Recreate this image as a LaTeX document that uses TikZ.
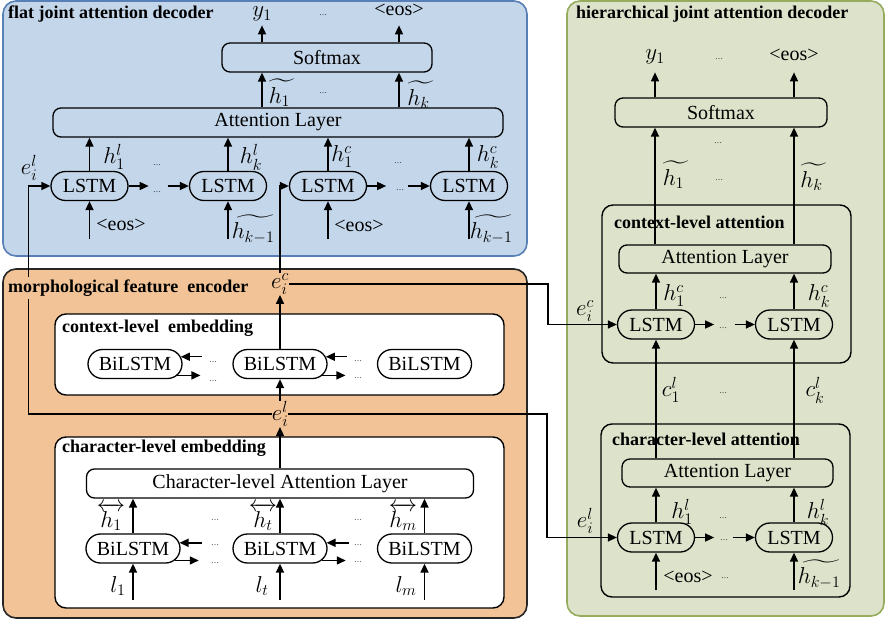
\documentclass[tikz,border=0pt]{standalone}
\usepackage{fix-cm}
\usepackage{amsmath}
\usepackage{fontspec}
\setmainfont{Liberation Serif}
\usetikzlibrary{shapes.misc,arrows.meta,calc}

\definecolor{flatfill}{RGB}{196,214,234}
\definecolor{flatline}{RGB}{88,128,182}
\definecolor{encfill}{RGB}{242,195,150}
\definecolor{hierfill}{RGB}{221,227,203}
\definecolor{hierline}{RGB}{150,172,92}

\newcommand{\tl}[1]{\widetilde{#1\mkern4mu}}

\tikzset{
  every node/.style={font=\rmfamily\fontsize{20}{24}\selectfont, inner sep=0pt},
  mlab/.style={font=\rmfamily\fontsize{23}{27}\selectfont},
  panel/.style={line width=1.6pt, rounded corners=13pt},
  group/.style={draw, line width=1.4pt, rounded corners=11pt},
  layer/.style={draw, line width=1.3pt, rounded corners=8pt, minimum height=29pt},
  cell/.style={draw, line width=1.3pt, rounded rectangle, minimum width=77pt, minimum height=29pt},
  bicell/.style={cell, minimum width=94pt},
  arr/.style={line width=1.5pt, -{Triangle[length=9pt,width=8pt]}},
  title/.style={font=\rmfamily\fontsize{18}{22}\selectfont\bfseries, anchor=west},
  dotl/.style={font=\rmfamily\fontsize{8}{9}\selectfont},
}

\begin{document}
\begin{tikzpicture}[x=1pt,y=-1pt]
\useasboundingbox (0,0) rectangle (888,623);

% ---------- panels ----------
\draw[panel, draw=flatline, fill=flatfill] (3,1) rectangle (527,256);
\draw[panel, draw=black!85, fill=encfill] (3,269) rectangle (527,618);
\draw[panel, draw=hierline, fill=hierfill] (567,1) rectangle (884,616);

% ---------- flat joint attention decoder ----------
\node[title] (tflat) at (8,14) {flat joint attention decoder};
\node[layer, minimum width=210pt] (fsoft) at (327,57.5) {Softmax};
\node[layer, minimum width=450pt] (fatt) at (278,122.5) {Attention Layer};
\node[cell] (f1) at (89.5,186) {LSTM};
\node[cell] (f2) at (228,186) {LSTM};
\node[cell] (f3) at (328,186) {LSTM};
\node[cell] (f4) at (469,186) {LSTM};

\node[mlab] (fy1) at (262,14) {$y_1$};
\node[dotl] (fd0) at (323,15) {…};
\node (feos) at (399,10) {<eos>};
\draw[arr] (fsoft.north -| fy1) -- ++(0,-17);
\draw[arr] (fsoft.north -| feos) -- ++(0,-17);
\draw[arr] (fatt.north -| fy1) -- (fsoft.south -| fy1);
\draw[arr] (fatt.north -| feos) -- (fsoft.south -| feos);
\node[mlab] (fht1) at (282,93) {$\tl{h_1}$};
\node[dotl] (fd1) at (323,93) {…};
\node[mlab] (fhtk) at (421,95) {$\tl{h_k}$};

\foreach \n in {f1,f2,f3,f4}
  \draw[arr] (\n.north) -- (\n.north |- fatt.south);
\node[mlab] (fh1) at (114,157) {$h_1^l$};
\node[mlab] (fhk) at (251,157) {$h_k^l$};
\node[mlab] (fh1c) at (342,157) {$h_1^c$};
\node[mlab] (fhkc) at (488,157) {$h_k^c$};
\node[dotl] (fd2) at (157,165) {…};
\node[dotl] (fd3) at (157,192) {…};
\node[dotl] (fd4) at (398,163) {…};
\node[dotl] (fd5) at (400,190) {…};
\draw[arr] (f1.east) -- ++(20,0);
\draw[arr] (f2.west) ++(-21,0) -- (f2.west);
\draw[arr] (f3.east) -- ++(19,0);
\draw[arr] (f4.west) ++(-22,0) -- (f4.west);
\node[mlab] (feil) at (29,168) {$e_i^l$};

\foreach \n in {f1,f2,f3,f4}
  \draw[arr] (\n.south) ++(0,38) -- (\n.south);
\node (fin1) at (121,225) {<eos>};
\node[mlab] (fin2) at (255,229) {$\widetilde{h_{k-1}\mkern3mu}$};
\node (fin3) at (359,226) {<eos>};
\node[mlab] (fin4) at (493,229) {$\widetilde{h_{k-1}\mkern3mu}$};

% ---------- morphological feature encoder ----------
\node[mlab] (eic) at (280,284) {$e_i^c$};
\draw[group, fill=white] (55,314) rectangle (504,395);
\node[title] (tctx) at (62,328) {context-level\ \ embedding};
\node[bicell] (c1) at (135,364) {BiLSTM};
\node[bicell] (c2) at (280,364) {BiLSTM};
\node[bicell] (c3) at (424.5,364) {BiLSTM};
\draw[arr] (c1.9) ++(21,0) -- (c1.9);
\draw[arr] (c1.-15) -- ++(23,0);
\draw[arr] (c2.9) ++(21,0) -- (c2.9);
\draw[arr] (c2.-15) -- ++(23,0);
\node[dotl] (cd1) at (213,362) {…};
\node[dotl] (cd2) at (213,381) {…};
\node[dotl] (cd3) at (358,361) {…};
\node[dotl] (cd4) at (358,378) {…};

\node[mlab] (eil) at (280,414) {$e_i^l$};
\draw[group, fill=white] (55,437) rectangle (504,608);
\node[title] (tchar) at (62,448) {character-level embedding};
\node[layer, minimum width=387pt] (chatt) at (280,483.5) {Character-level Attention Layer};
\node[bicell] (b1) at (133,548.5) {BiLSTM};
\node[bicell] (b2) at (280,548.5) {BiLSTM};
\node[bicell] (b3) at (424.5,548.5) {BiLSTM};
\foreach \n in {b1,b2,b3} {
  \draw[arr] (\n.north) -- (\n.north |- chatt.south);
  \draw[arr] (\n.south) ++(0,36) -- (\n.south);
}
\draw[arr] (b1.7) ++(22,0) -- (b1.7);
\draw[arr] (b1.-16) -- ++(24,0);
\draw[arr] (b2.7) ++(22,0) -- (b2.7);
\draw[arr] (b2.-16) -- ++(24,0);
\node[mlab] (bh1) at (111,517) {$\overleftrightarrow{h_1}$};
\node[mlab] (bht) at (263,517) {$\overleftrightarrow{h_t}$};
\node[mlab] (bhm) at (403,517) {$\overleftrightarrow{h_m}$};
\node[dotl] (bd1) at (215,520) {…};
\node[dotl] (bd2) at (358,520) {…};
\node[dotl] (bd3) at (215,545) {…};
\node[dotl] (bd4) at (215,563) {…};
\node[dotl] (bd5) at (358,545) {…};
\node[dotl] (bd6) at (358,562) {…};
\node[mlab] (bl1) at (118,586) {$l_1$};
\node[mlab] (blt) at (262,586) {$l_t$};
\node[mlab] (blm) at (406,586) {$l_m$};

% vertical data path through the encoder
\draw[arr] (chatt.north) -- (eil.south);
\draw[arr] (eil.north) -- (c2.south);
\draw[arr] (c2.north) -- (eic.south);
\draw[arr] (eic.north) |- (f3.west);
\draw[arr] (eil.west) -| ([xshift=-22pt]f1.west) -- (f1.west);
\node[title, fill=encfill, inner xsep=2pt, inner ysep=3pt] (tenc) at (6,288) {morphological feature\ \ encoder};

% ---------- hierarchical joint attention decoder ----------
\node[title] (thier) at (576,14) {hierarchical joint attention decoder};
\node[mlab] (hy1) at (655,57) {$y_1$};
\node[dotl] (hd0) at (719,59) {…};
\node (heos) at (794,55) {<eos>};
\node[layer, minimum width=212pt] (hsoft) at (721,112.5) {Softmax};
\draw[arr] (hsoft.north -| hy1) -- ++(0,-25);
\draw[arr] (hsoft.north -| heos) -- ++(0,-25);

\draw[group] (602,205) rectangle (851,363);
\node[title] (tcla) at (614,222) {context-level attention};
\node[layer, minimum width=212pt, minimum height=28pt] (hcatt) at (725,259) {Attention Layer};
\draw[arr] (hcatt.north -| hy1) -- (hsoft.south -| hy1);
\draw[arr] (hcatt.north -| heos) -- (hsoft.south -| heos);
\node[dotl] (hd1) at (718,143) {…};
\node[mlab] (hht1) at (676,175) {$\tl{h_1}$};
\node[dotl] (hd2) at (719,180) {…};
\node[mlab] (hhtk) at (814,177) {$\tl{h_k}$};

\node[cell] (hc1) at (656,324.5) {LSTM};
\node[cell] (hc2) at (794,324.5) {LSTM};
\foreach \n in {hc1,hc2}
  \draw[arr] (\n.north) -- (\n.north |- hcatt.south);
\node[mlab] (hch1) at (674,296) {$h_1^c$};
\node[dotl] (hd3) at (723,298) {…};
\node[mlab] (hchk) at (819,296) {$h_k^c$};
\draw[arr] (hc1.east) -- ++(19,0);
\node[dotl] (hd4) at (723,328) {…};
\draw[arr] (hc2.west) ++(-20,0) -- (hc2.west);
\node[mlab] (heic) at (585,311) {$e_i^c$};

\draw[group] (601,424) rectangle (850,597);
\node[title] (tcha) at (612,439) {character-level attention};
\node[layer, minimum width=211pt, minimum height=28pt] (hlatt) at (727.5,473) {Attention Layer};
\draw[arr] (hlatt.north -| hc1) -- (hc1.south);
\draw[arr] (hlatt.north -| hc2) -- (hc2.south);
\node[mlab] (hcl1) at (671,390) {$c_1^l$};
\node[dotl] (hd5) at (723,393) {…};
\node[mlab] (hclk) at (815,390) {$c_k^l$};

\node[cell] (hl1) at (656,537.5) {LSTM};
\node[cell] (hl2) at (794,537.5) {LSTM};
\foreach \n in {hl1,hl2} {
  \draw[arr] (\n.north) -- (\n.north |- hlatt.south);
  \draw[arr] (\n.south) ++(0,37) -- (\n.south);
}
\node[mlab] (hlh1) at (682,512) {$h_1^l$};
\node[dotl] (hd6) at (723,518) {…};
\node[mlab] (hlhk) at (818,512) {$h_k^l$};
\draw[arr] (hl1.east) -- ++(19,0);
\node[dotl] (hd7) at (724,540) {…};
\draw[arr] (hl2.west) ++(-22,0) -- (hl2.west);
\node (hin1) at (688,577) {<eos>};
\node[dotl] (hd8) at (725,578) {…};
\node[mlab] (hin2) at (821,574) {$\widetilde{h_{k-1}\mkern3mu}$};
\node[mlab] (heil) at (585,521) {$e_i^l$};

% encoder outputs feeding the hierarchical decoder
\draw[arr] (eic.east) -| ([xshift=-69pt]hc1.west) -- (hc1.west);
\draw[arr] (eil.east) -| ([xshift=-70pt]hl1.west) -- (hl1.west);
\end{tikzpicture}
\end{document}
